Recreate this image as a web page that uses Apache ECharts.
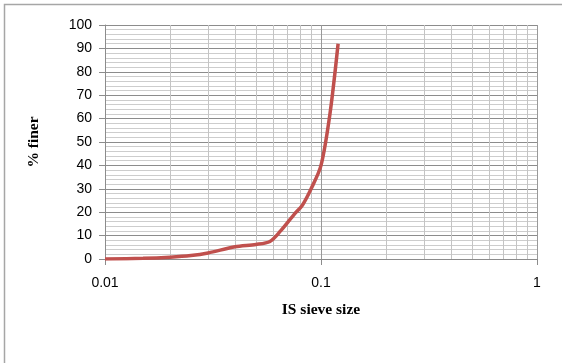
<!DOCTYPE html>
<html>
<head>
<meta charset="utf-8">
<script src="https://cdn.jsdelivr.net/npm/echarts@6/dist/echarts.min.js"></script>
<style>
  html, body { margin: 0; padding: 0; background: #fff; }
  #chart { width: 562px; height: 363px; }
</style>
</head>
<body>
<div id="chart"></div>
<script>
// Particle size distribution (grain size in mm vs. percent finer)
const sieveSizes = [0.01, 0.015, 0.02, 0.025, 0.03, 0.04, 0.05, 0.058, 0.065, 0.075, 0.082, 0.09, 0.1, 0.11, 0.12];
const percentFiner = [0, 0.3, 0.8, 1.5, 2.6, 5.2, 6.2, 7.5, 12, 19, 23, 30, 40, 62, 92];

// Intermediate log-cycle grid positions (2..9 within each decade)
const minorGridX = [0.02, 0.03, 0.04, 0.05, 0.06, 0.07, 0.08, 0.09,
                    0.2, 0.3, 0.4, 0.5, 0.6, 0.7, 0.8, 0.9];

const yTicks = { min: 0, max: 100, step: 10 };

const chart = echarts.init(document.getElementById('chart'), null, { renderer: 'canvas' });

chart.setOption({
  animation: false,
  backgroundColor: '#ffffff',
  graphic: [{
    type: 'rect',
    shape: { x: 4.5, y: 4.5, width: 700, height: 500 },
    style: { fill: 'none', stroke: '#a6a6a6', lineWidth: 1.5 },
    silent: true,
    z: 0
  }],
  grid: { left: 105, right: 25, top: 25, bottom: 104 },
  xAxis: {
    type: 'log',
    logBase: 10,
    min: 0.01,
    max: 1,
    name: 'IS sieve size',
    nameLocation: 'middle',
    nameGap: 43,
    nameTextStyle: { fontFamily: 'Liberation Serif', fontWeight: 'bold', fontSize: 15.5, color: '#000' },
    axisLine: { show: true, lineStyle: { color: '#8c8c8c', width: 1 } },
    axisTick: { show: true, length: 6, lineStyle: { color: '#8c8c8c' } },
    axisLabel: {
      margin: 17,
      fontFamily: 'Liberation Sans',
      fontSize: 14,
      color: '#000',
      formatter: v => String(+v.toPrecision(3))
    },
    splitLine: { show: true, lineStyle: { color: '#999999', width: 1 } }
  },
  yAxis: {
    type: 'value',
    min: yTicks.min,
    max: yTicks.max,
    interval: yTicks.step,
    name: '% finer',
    nameLocation: 'middle',
    nameGap: 63,
    nameRotate: 90,
    nameTextStyle: { fontFamily: 'Liberation Serif', fontWeight: 'bold', fontSize: 15.5, color: '#000' },
    axisLine: { show: true, lineStyle: { color: '#8c8c8c', width: 1 } },
    axisTick: { show: true, length: 6, lineStyle: { color: '#8c8c8c' } },
    axisLabel: { margin: 13, fontFamily: 'Liberation Sans', fontSize: 14, color: '#000' },
    splitLine: { show: true, lineStyle: { color: '#8c8c8c', width: 1 } },
    minorTick: { show: false, splitNumber: 5 },
    minorSplitLine: { show: true, lineStyle: { color: '#cdcdcd', width: 1 } }
  },
  series: [
    {
      // vertical grid for the log cycles
      type: 'line',
      data: [],
      silent: true,
      z: 1,
      markLine: {
        silent: true,
        symbol: ['none', 'none'],
        label: { show: false },
        lineStyle: { color: '#c4c4c4', width: 1, type: 'solid' },
        data: minorGridX.map(v => ({ xAxis: v }))
      }
    },
    {
      type: 'line',
      data: sieveSizes.map((s, i) => [s, percentFiner[i]]),
      smooth: 0.3,
      showSymbol: false,
      z: 5,
      lineStyle: { color: '#c0504d', width: 3.5 }
    }
  ]
});
</script>
</body>
</html>
